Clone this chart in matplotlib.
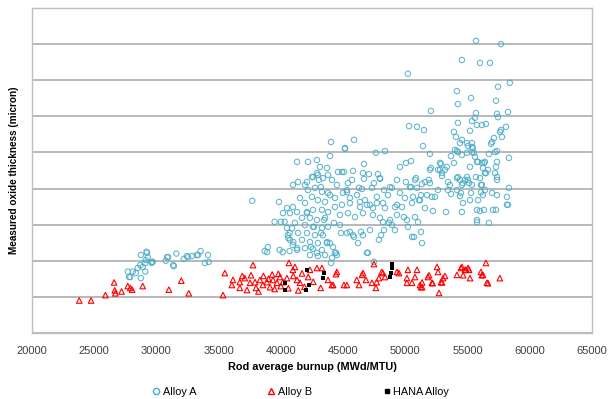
import matplotlib
matplotlib.use("Agg")
import matplotlib.pyplot as plt
from matplotlib.lines import Line2D

plt.rcParams.update({
    "font.family": ["Liberation Sans", "DejaVu Sans"],
    "font.size": 8,
})

# (burnup MWd/MTU, oxide thickness micron)
ALLOY_A = [
    # low-burnup group
    (28750, 21.6), (29200, 22.5), (29300, 21.0), (29700, 19.7), (29600, 19.4),
    (29100, 19.4), (28900, 18.3), (28500, 18.0), (28100, 17.0), (27700, 17.0),
    (27900, 15.5), (28750, 15.2), (29100, 17.0), (28350, 16.6), (27800, 15.5),
    (28700, 18.8), (29250, 22.2), (29650, 19.7), (29150, 20.2), (30850, 21.0),
    (30750, 20.0), (31600, 22.0), (31400, 18.5), (32200, 20.5), (32450, 21.3),
    (32850, 21.3), (33250, 21.6), (33550, 22.7), (34150, 21.6), (33900, 19.4),
    (34200, 19.7), (30950, 21.0), (31350, 18.8), (32550, 21.0), (33350, 21.6),
    # isolated / left edge of main group
    (37700, 36.6), (39850, 36.3), (39500, 30.8), (40000, 30.8), (40300, 30.8),
    (38700, 22.7), (38950, 23.8), (38900, 22.4), (39900, 23.0), (40150, 22.4),
    (40700, 22.7), (41300, 23.0), (41000, 25.2), (40600, 26.3), (40700, 27.7),
    (40900, 29.0),
    # dense core 40000-44000
    (40970, 41.0), (41380, 41.8), (41940, 41.0), (42500, 43.2), (42900, 44.3),
    (43380, 42.9), (43790, 43.8), (42180, 39.6), (42740, 40.2), (43300, 39.1),
    (43790, 38.8), (42500, 37.7), (42980, 36.8), (43550, 36.3), (41540, 37.4),
    (41940, 36.0), (40970, 34.9), (40490, 34.6), (40170, 33.2), (40730, 33.2),
    (41300, 33.5), (42100, 33.5), (42580, 34.1), (43300, 34.1), (43790, 33.5),
    (41700, 31.9), (42340, 31.9), (42900, 31.3), (43550, 31.9), (41130, 30.5),
    (41940, 29.9), (42580, 29.4), (43300, 29.1), (43790, 29.4), (41380, 27.7),
    (42100, 27.7), (42740, 27.1), (43380, 27.1), (41700, 25.8), (42340, 25.2),
    (42980, 24.9), (43710, 25.2), (41940, 23.5), (42580, 23.3), (43300, 23.0),
    (42340, 21.6), (42980, 21.3), (43550, 21.6), (40490, 29.1), (40570, 27.1),
    (40730, 25.8), (40970, 24.4), (41300, 23.5), (42100, 33.2), (42660, 29.4),
    (43220, 27.7), (43710, 24.9), (43470, 31.3), (42420, 23.8), (42900, 22.2),
    (44030, 52.9), (43950, 49.0), (41300, 47.4), (42180, 47.4), (42900, 47.9),
    (43140, 46.0), (43710, 45.7), (44590, 44.6), (42580, 43.2), (42980, 43.8),
    (43060, 42.4), (43220, 40.4), (42100, 41.8),
    # 44000-51000
    (44430, 22.2), (44110, 20.8), (44830, 27.7), (44030, 19.4), (44510, 21.6),
    (46920, 22.2), (47480, 19.7), (45310, 27.7), (45880, 26.6), (46440, 28.0),
    (48050, 27.1), (48290, 28.5), (48690, 30.5), (49890, 32.1), (50700, 26.6),
    (51260, 28.0), (51340, 24.9), (44350, 34.9), (44910, 35.5), (45550, 36.0),
    (46360, 34.9), (46920, 35.5), (47720, 36.0), (48370, 34.6), (49330, 35.5),
    (49730, 34.9), (50540, 36.0), (44750, 32.7), (45390, 33.2), (45960, 32.1),
    (46600, 33.2), (47400, 32.7), (47970, 31.9), (48210, 30.7), (48770, 31.3),
    (49330, 32.7), (50130, 31.3), (50780, 32.1), (51020, 30.7), (44750, 29.9),
    (44270, 30.5), (45550, 28.0), (45800, 27.1), (46200, 24.9), (46600, 27.1),
    (47160, 28.5), (47880, 25.8), (48930, 29.9), (49170, 28.5), (50210, 29.4),
    (50540, 26.6), (43950, 24.9), (44190, 23.8), (44350, 22.2), (47000, 22.2),
    (45880, 53.5), (45150, 51.0), (47640, 49.9), (48370, 50.4), (50460, 47.6),
    (50050, 47.1), (49570, 46.0), (46680, 46.8), (44910, 44.6), (45800, 44.9),
    (46600, 44.3), (46680, 42.7), (47080, 44.0), (47800, 44.0), (47970, 42.7),
    (49330, 42.4), (50050, 41.8), (50380, 40.4), (50780, 42.4), (50940, 40.2),
    (45720, 42.4), (45390, 41.5), (44510, 41.0), (44110, 42.4), (48930, 40.2),
    (47320, 40.2), (46520, 39.9), (45310, 39.6), (43950, 38.2), (44350, 37.4),
    (44990, 38.8), (45550, 37.4), (46120, 38.2), (46760, 36.8), (47720, 37.7),
    (48610, 38.2), (49570, 38.8), (49970, 37.4), (50620, 37.7), (51100, 36.8),
    (46360, 36.3), (47160, 35.5), (48210, 36.0), (49170, 34.9), (47400, 34.6),
    (45070, 44.6), (47960, 42.9), (48770, 40.4), (50860, 42.9), (46280, 40.2),
    (47480, 41.5), (48290, 39.6), (50460, 40.4), (45310, 39.0), (45150, 51.2),
    # high burnup 51000-58500
    (55680, 80.9), (57690, 80.0), (54550, 75.6), (56000, 74.8), (56800, 74.8),
    (50200, 71.8), (58400, 69.3), (57450, 68.2), (54150, 67.0), (55280, 65.1),
    (57290, 64.3), (54230, 63.4), (52060, 61.5), (55680, 60.9), (58250, 61.2),
    (57370, 60.7), (57450, 59.8), (55600, 59.6), (55360, 58.7), (55760, 57.6),
    (54230, 58.2), (56480, 57.9), (50300, 57.3), (50940, 57.1), (51500, 56.2),
    (58090, 57.1), (57690, 56.2), (53910, 55.7), (55200, 56.0), (54070, 54.3),
    (57770, 54.3), (57130, 54.0), (56970, 52.9), (56890, 52.4), (54550, 53.5),
    (54960, 52.6), (55360, 51.5), (51420, 51.8), (57370, 50.4), (54150, 50.4),
    (58330, 48.5), (51980, 49.6), (53670, 49.0), (54550, 49.3), (55520, 49.9),
    (56720, 49.6), (52060, 45.7), (52870, 46.8), (52790, 45.2), (53350, 46.0),
    (53910, 47.1), (55200, 46.0), (55760, 47.4), (56320, 47.1), (56480, 44.3),
    (57290, 46.0), (57210, 44.3), (51340, 41.3), (51900, 42.4), (52950, 43.5),
    (53430, 41.8), (54230, 43.2), (54800, 42.4), (54550, 41.0), (55120, 41.5),
    (55680, 43.2), (56080, 41.0), (57370, 42.4), (58330, 40.2), (51260, 38.2),
    (52140, 37.7), (53670, 38.5), (54470, 38.8), (55280, 38.8), (56080, 39.0),
    (56970, 38.8), (58170, 37.7), (56160, 57.6), (57610, 55.7), (54390, 52.6),
    (55040, 51.8), (55360, 52.6), (55440, 51.2), (53990, 50.7), (54230, 50.1),
    (54960, 49.9), (55360, 50.1), (55600, 48.8), (55840, 47.4), (56160, 47.1),
    (56400, 47.4), (56240, 45.7), (56640, 45.2), (56400, 44.3), (56000, 42.9),
    (56160, 41.0), (56400, 39.6), (56240, 38.2), (57210, 50.1), (57370, 47.4),
    (57370, 43.2), (57370, 38.2), (58250, 35.5), (57050, 34.1), (56000, 33.8),
    (55760, 31.3), (54630, 36.0), (54550, 33.5), (52220, 33.8), (51580, 34.6),
    (51180, 36.8), (51740, 38.2), (52390, 37.7), (52630, 39.6), (51980, 41.5),
    (51580, 41.8), (52790, 47.1), (52630, 45.2), (53190, 45.2), (52950, 44.3),
    (51980, 45.2), (53590, 41.0), (53430, 39.6), (54150, 42.9), (54390, 42.4),
    (54630, 41.5), (54960, 43.2), (55040, 42.4), (55360, 41.0), (54150, 39.6),
    (54390, 37.9), (55840, 36.8), (55200, 36.8), (53270, 33.5), (55760, 34.1),
    (56320, 34.1), (57290, 34.1), (55760, 30.7), (56720, 30.5), (58170, 35.5),
]

ALLOY_B = [
    (23800, 9.0), (24750, 9.0), (25900, 10.5), (26600, 14.0), (26700, 11.0),
    (26650, 11.8), (27200, 11.5), (27700, 13.0), (27900, 12.5), (28050, 12.0),
    (28900, 13.0), (31000, 12.0), (32000, 14.5), (32600, 11.0),
    (35500, 16.6), (35350, 10.5), (36150, 14.7), (36070, 13.3), (36700, 14.1),
    (36700, 12.5), (37100, 15.2), (37280, 11.9), (37760, 18.8), (37520, 13.9),
    (37920, 14.1), (38320, 14.7), (38560, 13.3), (38880, 14.1), (39130, 12.7),
    (39370, 14.7), (39690, 13.9), (39930, 15.5), (40170, 14.1), (40490, 15.2),
    (40650, 19.4), (40970, 17.5), (41300, 14.7), (41540, 13.9), (41130, 18.3),
    (43300, 18.0), (38000, 12.5), (38600, 15.8), (39000, 15.0), (39500, 12.2),
    (39800, 16.4), (40000, 13.0), (40600, 12.4), (41000, 15.8), (41700, 16.5),
    (41900, 12.8), (42200, 15.5), (42600, 14.2), (38200, 11.5), (39300, 16.2),
    (37600, 16.0), (36900, 15.8), (41400, 11.8),
    (42340, 17.5), (42900, 18.0), (43200, 12.5), (43790, 14.7), (44100, 13.3),
    (44430, 16.3), (45070, 13.3), (45300, 13.3), (46100, 14.7), (46280, 13.3),
    (46520, 16.1), (46840, 14.7), (47480, 19.1), (47320, 13.9), (47640, 12.5),
    (47880, 15.2), (48200, 16.6), (48370, 15.5), (49330, 16.9), (49490, 16.6),
    (50130, 13.9), (50210, 17.5), (50940, 17.5), (51180, 13.3), (51260, 12.7),
    (51820, 15.5), (52140, 13.9), (52550, 18.3), (52630, 16.9), (52710, 11.1),
    (52870, 14.1), (53030, 15.2), (53190, 15.8), (54150, 16.1), (54470, 18.0),
    (54880, 17.5), (55120, 17.5), (55200, 15.2), (56080, 16.9), (56240, 16.1),
    (56480, 19.4), (56560, 13.9), (57600, 15.2),
    (44500, 16.9), (44200, 13.3), (46600, 16.6), (48100, 16.9), (47700, 14.1),
    (50780, 15.5), (50130, 15.2), (50540, 13.9), (51900, 16.0), (52200, 13.8),
    (52950, 14.0), (54550, 18.3), (54800, 17.5), (55050, 18.0), (54650, 16.0),
    (56150, 16.0), (56650, 13.8), (51350, 14.0), (51350, 12.7),
]

HANA = [
    (40300, 13.9), (40300, 11.9), (42100, 17.5), (42300, 13.3), (42000, 12.0),
    (43500, 16.5), (43400, 15.2), (48900, 19.2), (48900, 18.0), (48850, 16.7),
    (48800, 15.5),
]

X_TICKS = list(range(20000, 65001, 5000))
Y_GRID = list(range(0, 91, 10))

BLUE = "#4BACC6"
RED = "#FF0000"
GRID = "#B3B3B3"


def xy(pts):
    return [p[0] for p in pts], [p[1] for p in pts]


fig = plt.figure(figsize=(6.08, 3.99), dpi=100)
ax = fig.add_axes([0.0526, 0.1654, 0.921, 0.8145])

x, y = xy(ALLOY_A)
ax.scatter(x, y, s=15, facecolors="none", edgecolors=BLUE, linewidths=0.8,
           alpha=0.85, zorder=3)
x, y = xy(ALLOY_B)
ax.scatter(x, y, s=16, marker="^", facecolors="none", edgecolors=RED,
           linewidths=0.8, zorder=4)
x, y = xy(HANA)
ax.scatter(x, y, s=11, marker="s", color="black", linewidths=0, zorder=5)

ax.set_xlim(20000, 65000)
ax.set_ylim(0, 90)
ax.set_xticks(X_TICKS)
ax.set_yticks(Y_GRID)
ax.set_yticklabels([])
ax.tick_params(axis="both", length=0)
ax.tick_params(axis="x", pad=9, labelsize=8, labelcolor="#404040")
ax.yaxis.grid(True, color=GRID, linewidth=1.3)
ax.set_axisbelow(True)
for sp in ax.spines.values():
    sp.set_color("#BFBFBF")
    sp.set_linewidth(1.0)

ax.set_xlabel("Rod average burnup (MWd/MTU)", fontsize=7.8,
              fontweight="bold", labelpad=5)
ax.set_ylabel("Measured oxide thickness (micron)", fontsize=7.2,
              fontweight="bold", labelpad=6)

handles = [
    Line2D([0], [0], marker="o", linestyle="", markerfacecolor="none",
           markeredgecolor=BLUE, markersize=4.5, label="Alloy A"),
    Line2D([0], [0], marker="^", linestyle="", markerfacecolor="none",
           markeredgecolor=RED, markersize=4.8, label="Alloy B"),
    Line2D([0], [0], marker="s", linestyle="", color="black",
           markersize=3.5, label="HANA Alloy"),
]
fig.legend(handles=handles, loc="center", ncol=3, frameon=False,
           bbox_to_anchor=(300 / 608, 1 - 392 / 399), fontsize=7.8,
           handletextpad=0.1, columnspacing=6.4, handlelength=1.0)

fig.savefig("out.png", dpi=100)
